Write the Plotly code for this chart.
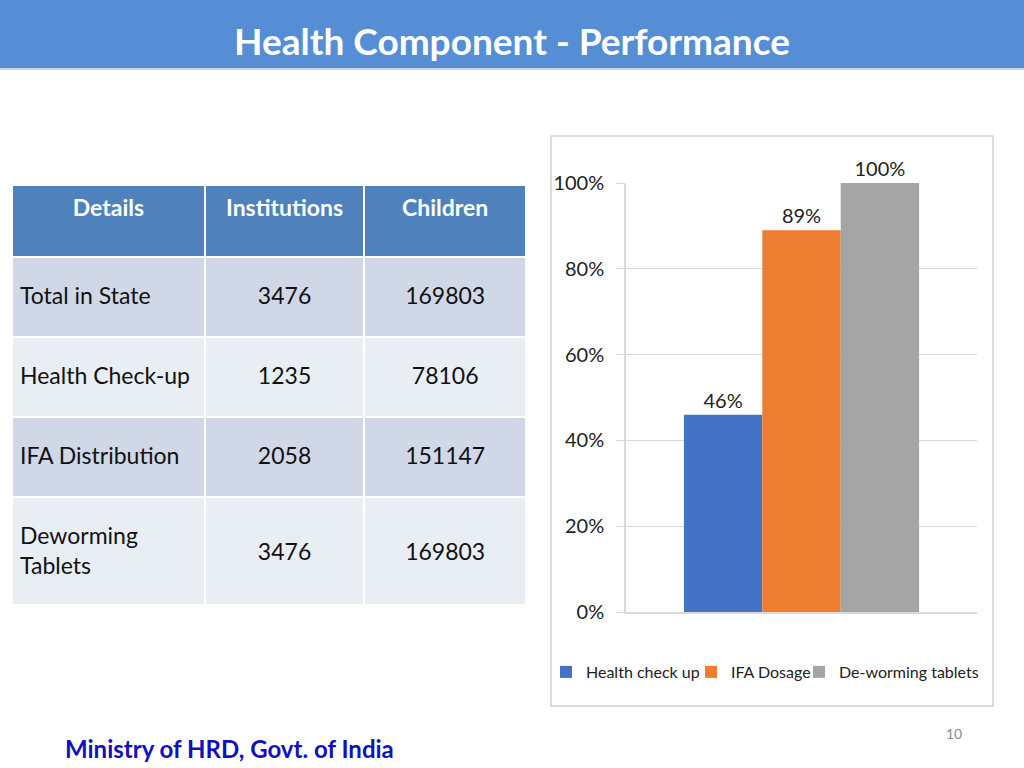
import plotly.graph_objects as go

# ---- data ----
title_text = "Health Component - Performance"
table_header = ["Details", "Institutions", "Children"]
details = ["Total in State", "Health Check-up", "IFA Distribution", "Deworming<br>Tablets"]
institutions = [3476, 1235, 2058, 3476]
children = [169803, 78106, 151147, 169803]

series_names = ["Health check up", "IFA Dosage", "De-worming tablets"]
series_values = [0.46, 0.89, 1.00]
series_colors = ["#4472C4", "#ED7D31", "#A5A5A5"]
category = [""]

footer_text = "Ministry of HRD, Govt. of India"
page_number = "10"

W, H = 1024, 768
FONT = "Lato"

def px(xp):
    return xp / W

def py(yp):
    return 1 - yp / H

# small blank first lines push body text down towards the middle of each row
def pad(size):
    return "<span style='font-size:%dpx'>&nbsp;</span><br>" % size

n_rows = len(details)
detail_txt = [pad(9) + d for d in details]
inst_txt = [pad(9) + str(v) for v in institutions]
child_txt = [pad(9) + str(v) for v in children]
# the two-line last row: centre the numbers against both lines, and make the row taller
inst_txt[-1] = pad(25) + str(institutions[-1])
child_txt[-1] = pad(25) + str(children[-1])
detail_txt[-1] = detail_txt[-1] + "<br><span style='font-size:9px'>&nbsp;</span>"

fig = go.Figure()

row_fill = ["#D0D8E8" if i % 2 == 0 else "#E9EDF4" for i in range(n_rows)]
fig.add_trace(go.Table(
    domain=dict(x=[px(12), px(526)], y=[py(604), py(185)]),
    columnwidth=[192, 159, 161],
    header=dict(
        values=["<b>%s</b>" % h for h in table_header],
        fill_color="#4F81BD",
        line=dict(color="white", width=2),
        font=dict(family=FONT, size=23, color="white"),
        align="center",
        height=72,
    ),
    cells=dict(
        values=[detail_txt, inst_txt, child_txt],
        fill_color=[row_fill, row_fill, row_fill],
        line=dict(color="white", width=2),
        font=dict(family=FONT, size=23, color="#111111"),
        align=["left", "center", "center"],
        height=80,
    ),
))

legend_ids = ["legend", "legend2", "legend3"]
legend_text_x = [586, 731, 839]
for name, val, col, lid in zip(series_names, series_values, series_colors, legend_ids):
    fig.add_trace(go.Bar(
        x=category, y=[val], name=name, legend=lid,
        marker=dict(color=col, line=dict(width=0)),
        texttemplate="%{y:.0%}", textposition="outside",
        textfont=dict(family=FONT, size=20, color="#222222"),
        cliponaxis=False,
    ))

legend_common = dict(
    orientation="h", yanchor="middle", y=py(672), xanchor="left",
    font=dict(family=FONT, size=16, color="#222222"),
    itemwidth=30, bgcolor="rgba(0,0,0,0)", borderwidth=0,
)
legend_layouts = {}
for lid, tx in zip(legend_ids, legend_text_x):
    legend_layouts[lid] = dict(legend_common, x=px(tx - 40))

fig.update_layout(
    width=W, height=H,
    margin=dict(l=0, r=0, t=0, b=0, autoexpand=False),
    paper_bgcolor="white", plot_bgcolor="white",
    barmode="group", bargap=0.33, bargroupgap=0,
    font=dict(family=FONT, color="#222222"),
    showlegend=True,
    **legend_layouts,
    xaxis=dict(
        domain=[px(626), px(977)], showticklabels=False, showgrid=False,
        zeroline=False, showline=True, linecolor="#D9D9D9", linewidth=1.5,
        fixedrange=True, automargin=False,
    ),
    yaxis=dict(
        domain=[py(612), py(183)], range=[0, 1], dtick=0.2, tickformat=".0%",
        showgrid=True, gridcolor="#D9D9D9", gridwidth=1.2,
        zeroline=False, showline=True, linecolor="#D9D9D9", linewidth=1.5,
        ticks="outside", ticklen=8, tickcolor="#D9D9D9", ticklabelstandoff=8,
        tickfont=dict(family=FONT, size=20, color="#222222"),
        fixedrange=True, automargin=False,
    ),
    shapes=[
        dict(type="rect", xref="paper", yref="paper", x0=0, x1=1, y0=py(68), y1=1,
             fillcolor="#558ED5", line=dict(width=0), layer="below"),
        dict(type="rect", xref="paper", yref="paper", x0=0, x1=1, y0=py(70), y1=py(68),
             fillcolor="#C6D9F1", line=dict(width=0), layer="below"),
        dict(type="rect", xref="paper", yref="paper", x0=px(551), x1=px(993), y0=py(706), y1=py(136),
             fillcolor="rgba(0,0,0,0)", line=dict(color="#D0D0D0", width=1.5), layer="below"),
    ],
    annotations=[
        dict(text="<b>%s</b>" % title_text, xref="paper", yref="paper", x=0.5, y=py(40),
             xanchor="center", yanchor="middle", showarrow=False,
             font=dict(family=FONT, size=37, color="white")),
        dict(text="<b>%s</b>" % footer_text, xref="paper", yref="paper", x=px(63), y=py(748),
             xanchor="left", yanchor="middle", showarrow=False,
             font=dict(family=FONT, size=24, color="#1010C0")),
        dict(text=page_number, xref="paper", yref="paper", x=px(954), y=py(733),
             xanchor="center", yanchor="middle", showarrow=False,
             font=dict(family=FONT, size=14, color="#8C8C8C")),
    ],
)

post = (
    "var d=document.getElementById('{plot_id}');"
    "d.style.position='fixed';d.style.top='0px';d.style.left='0px';"
    "document.body.style.margin='0';document.body.style.overflow='hidden';"
    "document.documentElement.style.overflow='hidden';"
)
fig.write_html("out.html", config={"displayModeBar": False}, post_script=post)
